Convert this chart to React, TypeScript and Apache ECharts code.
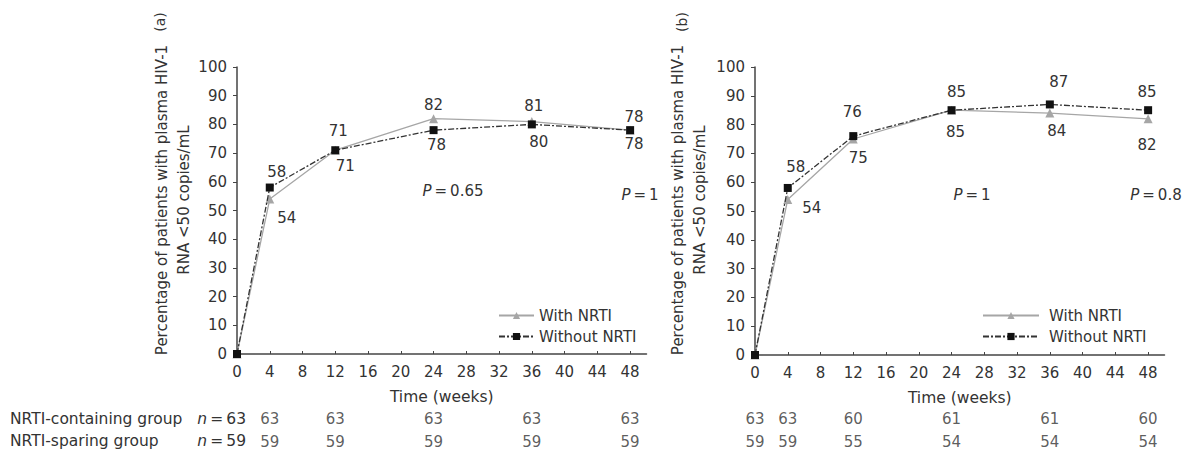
import React, { useEffect, useRef } from "react";
import * as echarts from "echarts";

// ---- data ----
const weeks = [0, 4, 12, 24, 36, 48];
const aWith = [0, 54, 71, 82, 81, 78];
const aWithout = [0, 58, 71, 78, 80, 78];
const bWith = [0, 54, 75, 85, 84, 82];
const bWithout = [0, 58, 76, 85, 87, 85];
const xTicks = [0, 4, 8, 12, 16, 20, 24, 28, 32, 36, 40, 44, 48];
const aTableWeeks = [4, 12, 24, 36, 48];
const aContaining = [63, 63, 63, 63, 63];
const aSparing = [59, 59, 59, 59, 59];
const bTableWeeks = [0, 4, 12, 24, 36, 48];
const bContaining = [63, 63, 60, 61, 61, 60];
const bSparing = [59, 59, 55, 54, 54, 54];
const rowNames = ["NRTI-containing group", "NRTI-sparing group"];
const rowN = [63, 59];
const pValues = [["0.65", "1"], ["1", "0.8"]];

// ---- label placement (style) ----
const offAWithout = [null, [7, -16], [3, -19], [3, 15], [7, 18], [4, 14]];
const offAWith = [null, [17, 19], [10, 16], [0, -14], [2, -16], [4, -13]];
const offBWithout = [null, [8, -21], [-1, -24], [5, -18], [9, -22], [-1, -18]];
const offBWith = [null, [24, 9], [5, 19], [4, 22], [7, 18], [-1, 26]];

const FONT = "DejaVu Sans";
const TXT = "#333";
const FS = 15;
const THIN = "\u2009";

function pts(vals: number[], offs: any[]) {
  return weeks.map((w, i) => ({
    value: [w, vals[i]],
    label: offs[i]
      ? {
          show: true,
          position: "inside",
          offset: offs[i],
          formatter: String(vals[i]),
          color: TXT,
          fontSize: FS,
          fontFamily: FONT,
        }
      : { show: false },
  }));
}

const PLOT_W = 409.5;

function plotX(grid: number) {
  return {
    gridIndex: grid,
    type: "value",
    min: 0,
    max: 50,
    interval: 4,
    axisLine: { lineStyle: { color: "#444", width: 1.5 } },
    axisTick: { inside: true, length: 3, customValues: xTicks, lineStyle: { color: "#444" } },
    axisLabel: { customValues: xTicks, color: TXT, fontSize: FS, fontFamily: FONT, margin: 10 },
    splitLine: { show: false },
    name: "Time (weeks)",
    nameLocation: "middle",
    nameGap: 35,
    nameTextStyle: { color: TXT, fontSize: 15.5, fontFamily: FONT },
  };
}
function plotY(grid: number) {
  return {
    gridIndex: grid,
    type: "value",
    min: 0,
    max: 100,
    interval: 10,
    axisLine: { show: true, lineStyle: { color: "#444", width: 1.5 } },
    axisTick: { show: true, length: 4, lineStyle: { color: "#444" } },
    axisLabel: { color: TXT, fontSize: FS, fontFamily: FONT, margin: 10 },
    splitLine: { show: false },
  };
}
function tableX(grid: number) {
  return { gridIndex: grid, type: "value", min: 0, max: 50, show: false };
}
function tableY(grid: number) {
  return { gridIndex: grid, type: "category", data: ["c", "s"], inverse: true, show: false };
}

function withSeries(x: number, vals: number[], offs: any[]) {
  return {
    name: "With NRTI",
    type: "line",
    xAxisIndex: x,
    yAxisIndex: x,
    data: pts(vals, offs),
    symbol: "triangle",
    symbolSize: 9,
    itemStyle: { color: "#a6a6a6" },
    lineStyle: { color: "#a6a6a6", width: 1.3, type: "solid" },
    z: 3,
  };
}
function withoutSeries(x: number, vals: number[], offs: any[]) {
  return {
    name: "Without NRTI",
    type: "line",
    xAxisIndex: x,
    yAxisIndex: x,
    data: pts(vals, offs),
    symbol: "rect",
    symbolSize: 8,
    itemStyle: { color: "#111" },
    lineStyle: { color: "#333", width: 1.3, type: [6, 2, 2, 2] },
    z: 4,
  };
}
function tableSeries(x: number, ws: number[], c: number[], s: number[]) {
  const data: any[] = [];
  ws.forEach((w, i) => data.push([w, "c", c[i]]));
  ws.forEach((w, i) => data.push([w, "s", s[i]]));
  return {
    type: "scatter",
    xAxisIndex: x,
    yAxisIndex: x,
    symbolSize: 0,
    data,
    label: {
      show: true,
      position: "inside",
      formatter: (p: any) => String(p.value[2]),
      color: TXT,
      fontSize: FS,
      fontFamily: FONT,
    },
    silent: true,
  };
}

function legend(left: number, itemWidth: number, textGap: number) {
  return {
    left,
    top: 303,
    orient: "vertical",
    itemWidth,
    itemHeight: 9,
    itemGap: 6,
    data: ["With NRTI", "Without NRTI"],
    textStyle: { color: TXT, fontSize: 15, fontFamily: FONT, padding: [0, 0, 0, textGap] },
    selectedMode: false,
  };
}

function rotText(x: number, y: number, text: string, size: number) {
  return {
    type: "text",
    x,
    y,
    rotation: Math.PI / 2,
    style: {
      text,
      align: "center",
      verticalAlign: "middle",
      fill: TXT,
      font: `${size}px "${FONT}"`,
      lineHeight: 22,
    },
  };
}
const richI = { i: { fontStyle: "italic", fontSize: FS, fontFamily: FONT, fill: TXT } };
function pText(x: number, y: number, v: string) {
  return {
    type: "text",
    x,
    y,
    style: {
      text: `{i|P}${THIN}=${THIN}${v}`,
      align: "center",
      verticalAlign: "middle",
      fill: TXT,
      fontSize: FS,
      fontFamily: FONT,
      rich: richI,
    },
  };
}
function plainText(x: number, y: number, text: string, align = "left", size = FS) {
  return {
    type: "text",
    x,
    y,
    style: {
      text,
      align,
      verticalAlign: "middle",
      fill: TXT,
      fontSize: size,
      fontFamily: FONT,
      rich: { i: { fontStyle: "italic", fontSize: size, fontFamily: FONT, fill: TXT } },
    },
  };
}

const yTitle = "Percentage of patients with plasma HIV-1\nRNA <50 copies/mL";

export default function App() {
  const ref = useRef<HTMLDivElement>(null);
  useEffect(() => {
    if (!ref.current) return;
    const chart = echarts.init(ref.current, null, { renderer: "svg" });
    chart.setOption({
      animation: false,
      backgroundColor: "#fff",
      textStyle: { fontFamily: FONT },
      grid: [
        { left: 237, top: 67, width: PLOT_W, height: 287 },
        { left: 755, top: 67, width: PLOT_W, height: 288 },
        { left: 237, top: 407, width: PLOT_W, height: 46 },
        { left: 755, top: 407, width: PLOT_W, height: 46 },
      ],
      xAxis: [plotX(0), plotX(1), tableX(2), tableX(3)],
      yAxis: [plotY(0), plotY(1), tableY(2), tableY(3)],
      legend: [legend(493, 35, 0), legend(977, 56, 5)],
      series: [
        withSeries(0, aWith, offAWith),
        withoutSeries(0, aWithout, offAWithout),
        withSeries(1, bWith, offBWith),
        withoutSeries(1, bWithout, offBWithout),
        tableSeries(2, aTableWeeks, aContaining, aSparing),
        tableSeries(3, bTableWeeks, bContaining, bSparing),
      ],
      graphic: [
        rotText(160, 22, "(a)", 14),
        rotText(173, 200, yTitle, 15),
        rotText(682, 22, "(b)", 14),
        rotText(689, 200, yTitle, 15),
        pText(453, 191, pValues[0][0]),
        pText(640, 195, pValues[0][1]),
        pText(972, 195, pValues[1][0]),
        pText(1156, 195, pValues[1][1]),
        plainText(10, 419, rowNames[0], "left", 15.5),
        plainText(10, 441, rowNames[1], "left", 15.5),
        plainText(246, 419, `{i|n}${THIN}=${THIN}${rowN[0]}`, "right", 15.5),
        plainText(246, 441, `{i|n}${THIN}=${THIN}${rowN[1]}`, "right", 15.5),
      ],
    });
    return () => chart.dispose();
  }, []);
  return <div ref={ref} style={{ width: 1184, height: 454, position: "absolute", left: 0, top: 0 }} />;
}
